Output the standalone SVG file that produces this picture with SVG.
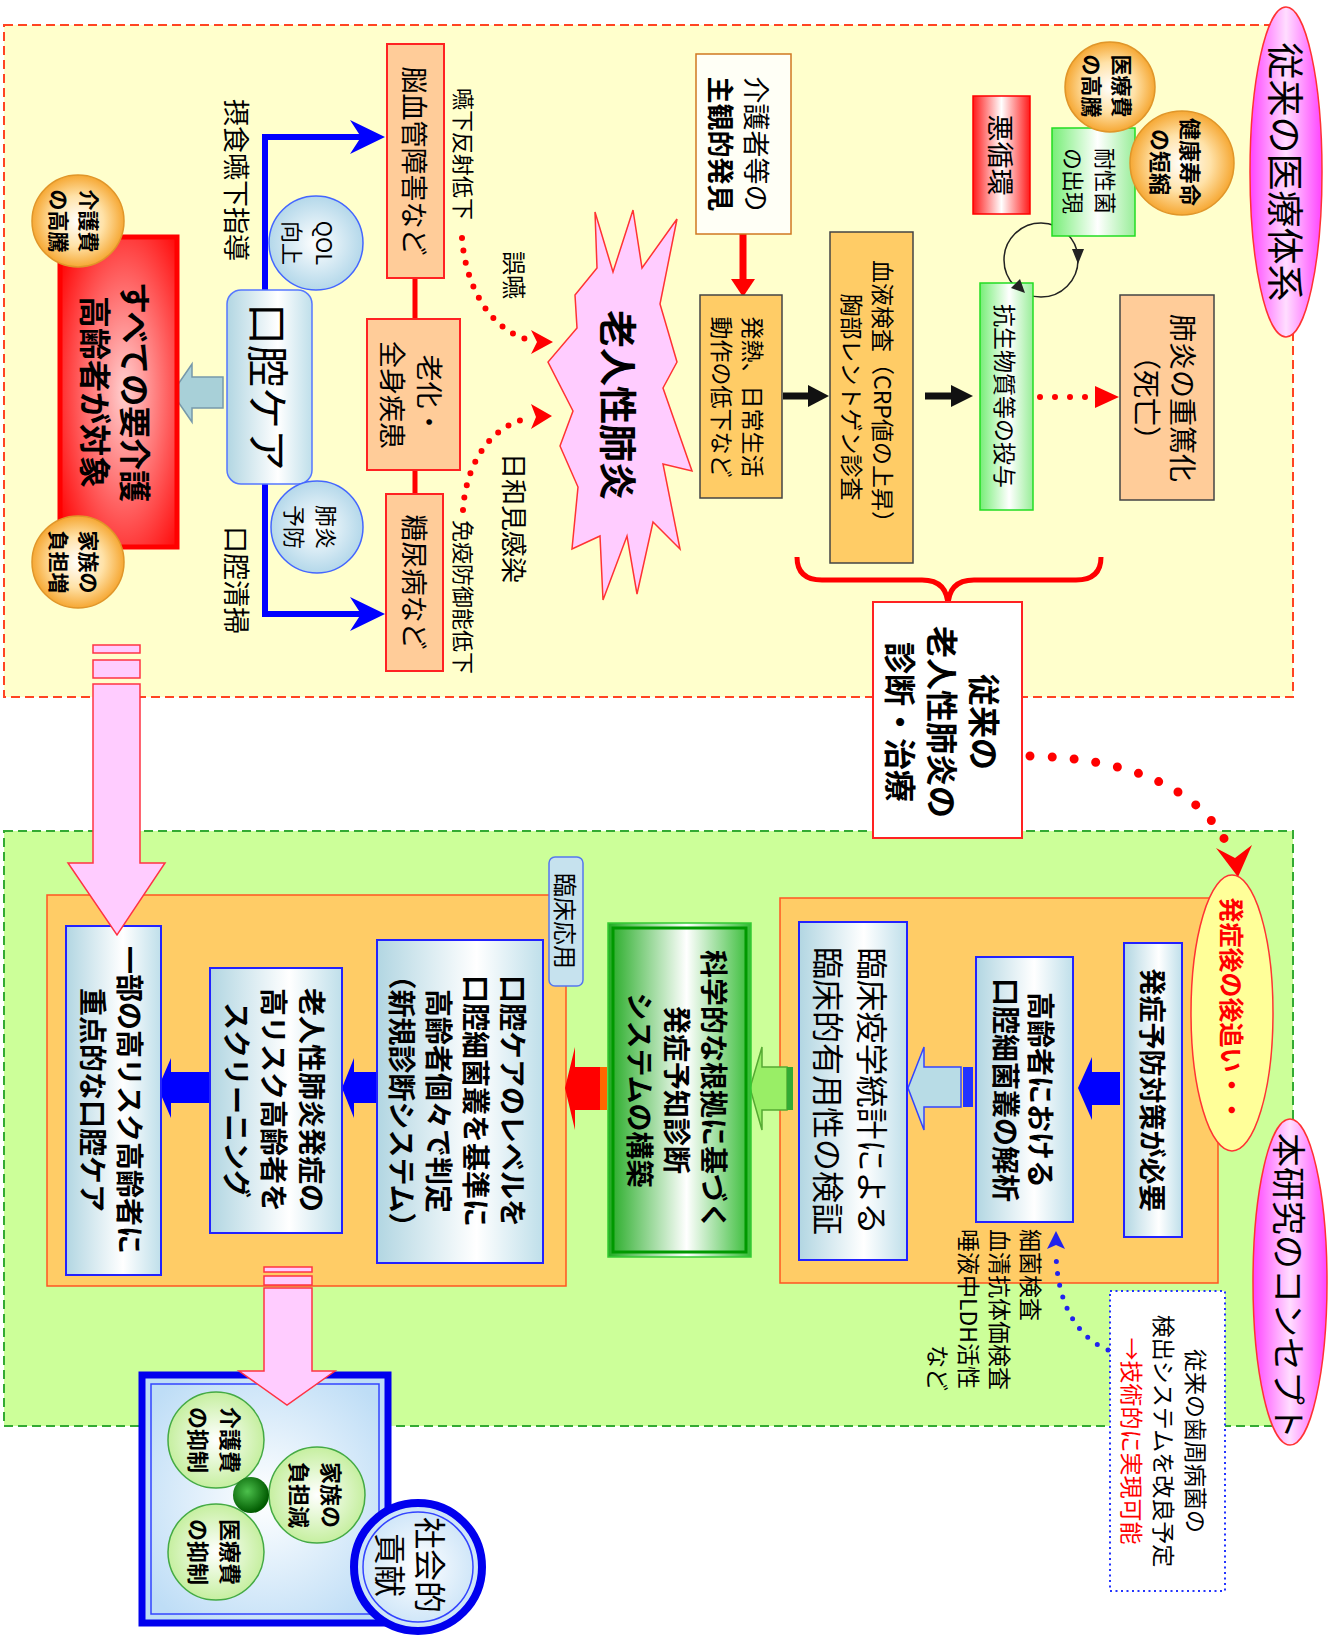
<svg xmlns="http://www.w3.org/2000/svg" width="1335" height="1640" viewBox="0 0 1335 1640">
<defs>
<style>
.t{font-family:"Noto Sans CJK JP","Noto Sans",sans-serif;text-anchor:middle;dominant-baseline:central;fill:#000}
.s{text-anchor:start}
.e{text-anchor:end}
.b{font-weight:bold}
.red{fill:#FF0000}
.peach{fill:#FFCC99;stroke:#FF2222;stroke-width:2}
.obox{fill:#FFCC66;stroke:#444;stroke-width:1.5}
.bbox{fill:url(#gBlueBox);stroke:#2222FF;stroke-width:2}
.panel{fill:#FFCC66;stroke:#FF5522;stroke-width:1.5}
.oc{fill:url(#gOrange);stroke:#E0962A;stroke-width:1.5}
.gc{fill:url(#gGreenC);stroke:#44AA44;stroke-width:1.5}
.lbc{fill:url(#gLightBlue);stroke:#4466FF;stroke-width:1.5}
.dots{fill:none;stroke-linecap:round}
.pink{fill:#FFCCFF;stroke:#FF3344;stroke-width:1.5}
</style>
<linearGradient id="gBlueBox" x1="0" y1="0" x2="1" y2="0"><stop offset="0" stop-color="#B2D6E2"/><stop offset="0.6" stop-color="#FFFFFF"/><stop offset="1" stop-color="#BFDFEA"/></linearGradient>
<linearGradient id="gMag" x1="0" y1="0" x2="1" y2="0"><stop offset="0" stop-color="#FF44FF"/><stop offset="0.5" stop-color="#FFDDFF"/><stop offset="1" stop-color="#FF44FF"/></linearGradient>
<linearGradient id="gRedBar" x1="0" y1="0" x2="1" y2="0"><stop offset="0" stop-color="#FF1A1A"/><stop offset="0.5" stop-color="#FFFFFF"/><stop offset="1" stop-color="#FF1A1A"/></linearGradient>
<linearGradient id="gGreenL" x1="0" y1="0" x2="1" y2="0"><stop offset="0" stop-color="#77EE77"/><stop offset="0.55" stop-color="#FFFFFF"/><stop offset="1" stop-color="#99EE99"/></linearGradient>
<linearGradient id="gGreenBox" x1="0" y1="0" x2="1" y2="0"><stop offset="0" stop-color="#22AA22"/><stop offset="0.55" stop-color="#FFFFFF"/><stop offset="1" stop-color="#33BB33"/></linearGradient>
<radialGradient id="gRedBox" cx="0.55" cy="0.5" r="0.7"><stop offset="0" stop-color="#FFD0D0"/><stop offset="1" stop-color="#FF0000"/></radialGradient>
<radialGradient id="gOrange" cx="0.5" cy="0.5" r="0.5"><stop offset="0" stop-color="#FFFFFF"/><stop offset="0.55" stop-color="#FFE2A8"/><stop offset="1" stop-color="#F6A834"/></radialGradient>
<radialGradient id="gLightBlue" cx="0.5" cy="0.5" r="0.5"><stop offset="0" stop-color="#FFFFFF"/><stop offset="1" stop-color="#B4D8EA"/></radialGradient>
<radialGradient id="gGreenC" cx="0.5" cy="0.5" r="0.5"><stop offset="0" stop-color="#FFFFFF"/><stop offset="1" stop-color="#C6EFA0"/></radialGradient>
<radialGradient id="gBlueBig" cx="0.5" cy="0.5" r="0.6"><stop offset="0" stop-color="#FFFFFF"/><stop offset="1" stop-color="#BEDDF6"/></radialGradient>
<radialGradient id="gDark" cx="0.4" cy="0.4" r="0.6"><stop offset="0" stop-color="#4CC04C"/><stop offset="1" stop-color="#005A00"/></radialGradient>
</defs>

<!-- background regions -->
<g id="regions">
<rect x="4" y="25" width="1289" height="672" fill="#FFFFCC" stroke="#FF4422" stroke-width="2" stroke-dasharray="9 5"/>
<rect x="4" y="831" width="1289" height="595" fill="#CCFF99" stroke="#33AA33" stroke-width="2" stroke-dasharray="9 5"/>
<rect class="panel" x="780" y="898" width="438" height="385"/>
<rect class="panel" x="47" y="895" width="519" height="391"/>
</g>

<!-- connectors -->
<g id="connectors">
<!-- oral care branches -->
<path d="M370,137 L265,137 L265,614 L370,614" fill="none" stroke="#0000FF" stroke-width="6"/>
<polygon points="385,137 350,120 361,137 350,154" fill="#0000FF"/>
<polygon points="385,614 350,597 361,614 350,631" fill="#0000FF"/>
<!-- links between underlying conditions -->
<path d="M415,278 L415,320 M415,470 L415,494" stroke="#FF0000" stroke-width="5"/>
<!-- dotted causes into pneumonia -->
<path class="dots" d="M462,238 C466,292 494,332 530,340" stroke="#FF0000" stroke-width="6" stroke-dasharray="0 12.5"/>
<polygon points="553,342 531,330 537,342 531,354" fill="#FF0000"/>
<path class="dots" d="M463,510 C466,462 492,424 530,418" stroke="#FF0000" stroke-width="6" stroke-dasharray="0 12.5"/>
<polygon points="552,416 531,404 536,417 531,429" fill="#FF0000"/>
<!-- oral care to target group -->
<polygon points="223,377 192,377 192,364 172,393 192,422 192,408 223,408" fill="#A8D0D8" stroke="#7799AA" stroke-width="1.5"/>
<!-- caregiver discovery to symptoms -->
<rect x="739.5" y="234" width="7" height="47" fill="#FF0000"/>
<polygon points="731,279 755,279 743,297" fill="#FF0000"/>
<!-- conventional flow -->
<rect x="783" y="392.5" width="28" height="7" fill="#111"/>
<polygon points="808,385 829,396 808,407" fill="#111"/>
<rect x="925" y="392.5" width="29" height="7" fill="#111"/>
<polygon points="951,385 973,396 951,407" fill="#111"/>
<path class="dots" d="M1040,397 L1090,397" stroke="#FF0000" stroke-width="6" stroke-dasharray="0 15"/>
<polygon points="1095,386 1119,397 1095,408" fill="#FF0000"/>
<!-- vicious cycle -->
<circle cx="1041" cy="260" r="37" fill="none" stroke="#222" stroke-width="1.5"/>
<!-- bracket -->
<path d="M797,557 Q797,580 822,580 L922,580 Q948,580 948,607 Q948,580 974,580 L1076,580 Q1101,580 1101,557" fill="none" stroke="#FF0000" stroke-width="5"/>
<!-- conventional care leading to new concept -->
<path class="dots" d="M1030,756 C1125,758 1196,786 1226,842" stroke="#FF0000" stroke-width="9" stroke-dasharray="0 22"/>
<polygon points="1238,877 1216,848 1235,858 1252,845" fill="#FF0000"/>
<!-- research flow -->
<polygon points="1120,1072 1092,1072 1092,1057 1078,1088 1092,1120 1092,1105 1120,1105" fill="#0000FF"/>
<polygon points="961,1067 924,1067 924,1047 908,1088 924,1130 924,1107 961,1107" fill="#B8DCE6" stroke="#3344FF" stroke-width="1.5"/>
<rect x="963" y="1067" width="10" height="40" fill="#2233FF"/>
<polygon points="787,1067 762,1067 762,1047 750,1088 762,1130 762,1110 787,1110" fill="#99EE66" stroke="#55AA33" stroke-width="1.5"/>
<rect x="787" y="1067" width="6" height="43" fill="#33AA33"/>
<polygon points="600,1067 575,1067 575,1047 565,1088 575,1130 575,1110 600,1110" fill="#FF0000"/>
<rect x="600" y="1067" width="7" height="43" fill="#FF6600"/>
<polygon points="383,1072 354,1072 354,1058 342,1088 354,1118 354,1103 383,1103" fill="#0000FF"/>
<polygon points="210,1072 171,1072 171,1058 158,1088 171,1118 171,1103 210,1103" fill="#0000FF"/>
<!-- improved detection feeding flora analysis -->
<path class="dots" d="M1108,1350 C1072,1335 1056,1295 1056,1250" stroke="#2222EE" stroke-width="5" stroke-dasharray="0 12"/>
<polygon points="1056,1231 1047,1249 1056,1245 1065,1249" fill="#2222EE"/>
</g>

<!-- conventional care system -->
<g id="title-conventional">
<ellipse cx="1286" cy="172" rx="36" ry="165" fill="url(#gMag)" stroke="#FF3333" stroke-width="1.5"/>
<text class="t" font-size="37" transform="translate(1287,172) rotate(90)">従来の医療体系</text>
</g>
<g id="resistant">
<rect x="1052" y="128" width="83" height="108" fill="url(#gGreenL)" stroke="#22DD22" stroke-width="1.5"/>
<text class="t" font-size="22" transform="translate(1091,181) rotate(90)"><tspan x="0" y="-16">耐性菌</tspan><tspan x="0" y="16">の出現</tspan></text>
</g>
<g id="cost-medical">
<circle class="oc" cx="1110" cy="87" r="45"/>
<text class="t b" font-size="21" transform="translate(1108,86) rotate(90)"><tspan x="0" y="-15">医療費</tspan><tspan x="0" y="15">の高騰</tspan></text>
</g>
<g id="lifespan">
<circle class="oc" cx="1182" cy="163" r="52"/>
<text class="t b" font-size="22" transform="translate(1177,162) rotate(90)"><tspan x="0" y="-15">健康寿命</tspan><tspan x="0" y="15">の短縮</tspan></text>
</g>
<g id="vicious">
<rect x="973" y="96" width="57" height="118" fill="url(#gRedBar)" stroke="#FF0000" stroke-width="1.5"/>
<text class="t" font-size="27" transform="translate(1001,155) rotate(90)">悪循環</text>
</g>
<g id="antibiotics">
<rect x="980" y="283" width="53" height="227" fill="url(#gGreenL)" stroke="#22DD22" stroke-width="1.5"/>
<text class="t" font-size="23" transform="translate(1006,396) rotate(90)">抗生物質等の投与</text>
</g>
<g id="severe">
<rect x="1120" y="295" width="94" height="205" fill="#FFCC99" stroke="#444" stroke-width="1.5"/>
<text class="t" font-size="28" transform="translate(1166,398) rotate(90)"><tspan x="0" y="-18">肺炎の重篤化</tspan><tspan x="0" y="18">（死亡）</tspan></text>
</g>
<g id="blood-test">
<rect class="obox" x="830" y="232" width="83" height="331"/>
<text class="t" font-size="23" transform="translate(868,397) rotate(90)"><tspan x="0" y="-15.5">血液検査（CRP値の上昇）</tspan><tspan x="0" y="15.5">胸部レントゲン診査</tspan></text>
</g>
<g id="fever">
<rect class="obox" x="700" y="295" width="82" height="203"/>
<text class="t" font-size="23" transform="translate(738,397) rotate(90)"><tspan x="0" y="-15.5">発熱、日常生活</tspan><tspan x="0" y="15.5">動作の低下など</tspan></text>
</g>
<g id="caregiver">
<rect x="696" y="54" width="95" height="180" fill="#FFFFF6" stroke="#D07820" stroke-width="1.5"/>
<text class="t" font-size="27" transform="translate(740,144) rotate(90)"><tspan x="0" y="-18">介護者等の</tspan><tspan class="b" x="0" y="18">主観的発見</tspan></text>
</g>
<g id="pneumonia">
<polygon points="595,212 613,272 633,210 642,268 677,219 660,304 677,362 663,388 692,471 663,464 680,549 653,522 637,594 627,536 603,600 600,536 572,549 578,487 560,446 573,411 548,362 577,328 575,295 597,268" fill="#FFCCFF" stroke="#FF3333" stroke-width="1.5"/>
<text class="t b" font-size="38" transform="translate(620,405) rotate(90)">老人性肺炎</text>
</g>
<g id="cerebro">
<rect class="peach" x="387" y="44" width="57" height="234"/>
<text class="t" font-size="27" transform="translate(415,161) rotate(90)">脳血管障害など</text>
</g>
<g id="aging">
<rect class="peach" x="367" y="319" width="93" height="151"/>
<text class="t" font-size="27" transform="translate(412,395) rotate(90)"><tspan x="0" y="-18.5">老化・</tspan><tspan x="0" y="18.5">全身疾患</tspan></text>
</g>
<g id="diabetes">
<rect class="peach" x="386" y="494" width="57" height="177"/>
<text class="t" font-size="27" transform="translate(415,582) rotate(90)">糖尿病など</text>
</g>
<g id="cause-labels">
<text class="t" font-size="22" transform="translate(465,154) rotate(90)">嚥下反射低下</text>
<text class="t" font-size="24" transform="translate(515,275) rotate(90)">誤嚥</text>
<text class="t" font-size="26" transform="translate(515,518) rotate(90)">日和見感染</text>
<text class="t" font-size="22" transform="translate(465,597) rotate(90)">免疫防御能低下</text>
<text class="t" font-size="27" transform="translate(237,180) rotate(90)">摂食嚥下指導</text>
<text class="t" font-size="27" transform="translate(237,580) rotate(90)">口腔清掃</text>
</g>
<g id="oral-care">
<rect x="227" y="290" width="85" height="194" rx="14" fill="url(#gBlueBox)" stroke="#5577FF" stroke-width="1.5"/>
<text class="t" font-size="42" transform="translate(270,387) rotate(90)">口腔ケア</text>
</g>
<g id="qol">
<circle class="lbc" cx="316" cy="243" r="47"/>
<text class="t" font-size="22" transform="translate(310,243) rotate(90)"><tspan x="0" y="-16">QOL</tspan><tspan x="0" y="16">向上</tspan></text>
</g>
<g id="prevent">
<circle class="lbc" cx="317" cy="527" r="46"/>
<text class="t" font-size="22" transform="translate(312,527) rotate(90)"><tspan x="0" y="-16">肺炎</tspan><tspan x="0" y="16">予防</tspan></text>
</g>
<g id="all-elderly">
<rect x="60" y="237" width="117" height="310" fill="url(#gRedBox)" stroke="#FF0000" stroke-width="5"/>
<text class="t b" font-size="32" transform="translate(117,392) rotate(90)"><tspan x="0" y="-20">すべての要介護</tspan><tspan x="0" y="20">高齢者が対象</tspan></text>
</g>
<g id="care-cost">
<circle class="oc" cx="78" cy="221" r="46"/>
<text class="t b" font-size="21" transform="translate(75,221) rotate(90)"><tspan x="0" y="-15">介護費</tspan><tspan x="0" y="15">の高騰</tspan></text>
</g>
<g id="family-burden">
<circle class="oc" cx="78" cy="562" r="46"/>
<text class="t b" font-size="21" transform="translate(75,562) rotate(90)"><tspan x="0" y="-15">家族の</tspan><tspan x="0" y="15">負担増</tspan></text>
</g>
<g id="conventional-dx">
<rect x="873" y="602" width="149" height="236" fill="#FFFFFF" stroke="#FF2222" stroke-width="2"/>
<text class="t b" font-size="32" transform="translate(944,722) rotate(90)"><tspan x="0" y="-42">従来の</tspan><tspan x="0" y="0">老人性肺炎の</tspan><tspan x="0" y="42">診断・治療</tspan></text>
</g>

<!-- concept of this study -->
<g id="title-study">
<ellipse cx="1290" cy="1282" rx="37" ry="163" fill="url(#gMag)" stroke="#FF3333" stroke-width="1.5"/>
<text class="t" font-size="34" transform="translate(1290,1286) rotate(90)">本研究のコンセプト</text>
</g>
<g id="after-onset">
<ellipse cx="1232" cy="1013" rx="41" ry="138" fill="#FFFF99" stroke="#FF3333" stroke-width="1.5"/>
<text class="t b red" font-size="25" transform="translate(1233,1010) rotate(90)">発症後の後追い・・</text>
</g>
<g id="need-prevention">
<rect class="bbox" x="1124" y="943" width="58" height="294"/>
<text class="t b" font-size="27" transform="translate(1153,1090) rotate(90)">発症予防対策が必要</text>
</g>
<g id="flora">
<rect class="bbox" x="976" y="957" width="97" height="265"/>
<text class="t b" font-size="28" transform="translate(1024,1090) rotate(90)"><tspan x="0" y="-17.5">高齢者における</tspan><tspan x="0" y="17.5">口腔細菌叢の解析</tspan></text>
</g>
<g id="epidemiology">
<rect class="bbox" x="799" y="922" width="108" height="338"/>
<text class="t" font-size="32" transform="translate(852,1091) rotate(90)"><tspan x="0" y="-22">臨床疫学統計による</tspan><tspan x="0" y="22">臨床的有用性の検証</tspan></text>
</g>
<g id="science">
<rect x="608" y="923" width="143" height="334" fill="url(#gGreenBox)" stroke="#33CC33" stroke-width="1.5"/>
<rect x="613" y="928" width="133" height="324" fill="none" stroke="#009900" stroke-width="3"/>
<text class="t b" font-size="28" transform="translate(678,1090) rotate(90)"><tspan x="0" y="-37">科学的な根拠に基づく</tspan><tspan x="0" y="0">発症予知診断</tspan><tspan x="0" y="37">システムの構築</tspan></text>
</g>
<g id="clinical">
<rect x="549" y="857" width="34" height="129" rx="6" fill="#C6E2EE" stroke="#5577EE" stroke-width="1.5"/>
<text class="t" font-size="24" transform="translate(566,921) rotate(90)">臨床応用</text>
</g>
<g id="level">
<rect class="bbox" x="377" y="940" width="166" height="323"/>
<text class="t b" font-size="28" transform="translate(458,1101) rotate(90)"><tspan x="0" y="-55.5">口腔ケアのレベルを</tspan><tspan x="0" y="-18.5">口腔細菌叢を基準に</tspan><tspan x="0" y="18.5">高齢者個々で判定</tspan><tspan x="0" y="55.5">（新規診断システム）</tspan></text>
</g>
<g id="screening">
<rect class="bbox" x="210" y="968" width="132" height="265"/>
<text class="t b" font-size="28" transform="translate(275,1100) rotate(90)"><tspan x="0" y="-37.5">老人性肺炎発症の</tspan><tspan x="0" y="0">高リスク高齢者を</tspan><tspan x="0" y="37.5">スクリーニング</tspan></text>
</g>
<g id="focused">
<rect class="bbox" x="66" y="926" width="95" height="349"/>
<text class="t b" font-size="28" transform="translate(112,1100) rotate(90)"><tspan x="0" y="-18.5">一部の高リスク高齢者に</tspan><tspan x="0" y="18.5">重点的な口腔ケア</tspan></text>
</g>
<g id="tests">
<text class="t s" font-size="23" transform="translate(985,1229) rotate(90)"><tspan x="0" y="-46.5">細菌検査</tspan><tspan x="0" y="-15.5">血清抗体価検査</tspan><tspan x="0" y="15.5">唾液中LDH活性</tspan></text>
<text class="t e" font-size="23" transform="translate(985,1391) rotate(90)"><tspan x="0" y="46.5">など</tspan></text>
</g>
<g id="detect-note">
<rect x="1110" y="1291" width="115" height="300" fill="#FFFFFF" stroke="#2233FF" stroke-width="2" stroke-dasharray="2 3.5"/>
<text class="t" font-size="23" transform="translate(1165,1441) rotate(90)"><tspan x="0" y="-32">従来の歯周病菌の</tspan><tspan x="0" y="0">検出システムを改良予定</tspan><tspan class="red" x="0" y="32">→技術的に実現可能</tspan></text>
</g>
<g id="outcome">
<rect x="142" y="1375" width="246" height="248" fill="url(#gBlueBig)" stroke="#0000EE" stroke-width="7"/>
<rect x="151" y="1384" width="228" height="230" fill="none" stroke="#3344FF" stroke-width="1.5"/>
<circle class="gc" cx="216" cy="1440" r="48"/>
<circle class="gc" cx="317" cy="1495" r="48"/>
<circle class="gc" cx="216" cy="1552" r="48"/>
<circle cx="251" cy="1495" r="18" fill="url(#gDark)"/>
<text class="t b" font-size="22" transform="translate(216,1440) rotate(90)"><tspan x="0" y="-16">介護費</tspan><tspan x="0" y="16">の抑制</tspan></text>
<text class="t b" font-size="22" transform="translate(317,1495) rotate(90)"><tspan x="0" y="-16">家族の</tspan><tspan x="0" y="16">負担減</tspan></text>
<text class="t b" font-size="22" transform="translate(216,1552) rotate(90)"><tspan x="0" y="-16">医療費</tspan><tspan x="0" y="16">の抑制</tspan></text>
</g>
<g id="social">
<circle cx="418" cy="1567" r="64" fill="url(#gBlueBig)" stroke="#0000EE" stroke-width="8"/>
<circle cx="418" cy="1567" r="55" fill="none" stroke="#3344FF" stroke-width="1.5"/>
<text class="t" font-size="32" transform="translate(412,1565) rotate(90)"><tspan x="0" y="-20">社会的</tspan><tspan x="0" y="20">貢献</tspan></text>
</g>

<!-- arrows drawn over the nodes -->
<g id="overlay-arrows">
<polygon points="1072,249 1084,249 1078,264" fill="#222"/>
<polygon points="1020,279 1011,288 1025,293" fill="#222"/>
<rect class="pink" x="93" y="645" width="47" height="8"/>
<rect class="pink" x="93" y="660" width="47" height="18"/>
<polygon class="pink" points="93,684 140,684 140,863 165,863 117,935 68,863 93,863"/>
<rect class="pink" x="264" y="1267" width="48" height="5"/>
<rect class="pink" x="264" y="1276" width="48" height="9"/>
<polygon class="pink" points="264,1288 312,1288 312,1371 335,1371 287,1405 239,1371 264,1371"/>
</g>
</svg>
